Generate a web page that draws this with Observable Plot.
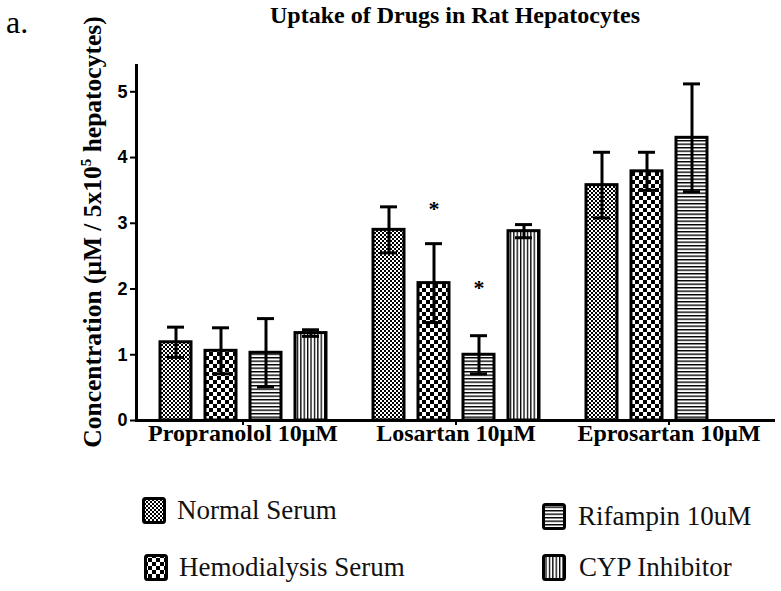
<!DOCTYPE html>
<html>
<head>
<meta charset="utf-8">
<script src="https://cdn.jsdelivr.net/npm/d3@7"></script>
<script src="https://cdn.jsdelivr.net/npm/@observablehq/plot@0.6"></script>
<style>
  html, body { margin: 0; padding: 0; background: white; }
  #root { position: relative; width: 781px; height: 591px; overflow: hidden; background: white; font-family: "Liberation Serif", "Times New Roman", serif; color: #000; }
  .abs { position: absolute; white-space: nowrap; }
  #panel { left: 6px; top: 6px; font-size: 32px; line-height: 32px; }
  #title { left: 455px; top: 3px; transform: translateX(-50%); font-size: 24px; line-height: 24px; font-weight: bold; }
  #ylabel { left: 92px; top: 232px; transform: translate(-50%, -50%) rotate(-90deg); font-size: 25.5px; line-height: 25px; font-weight: bold; }
  #ylabel sup { font-size: 15px; line-height: 0; vertical-align: 10px; }
  #chart { left: 0; top: 0; }
  .item { position: absolute; display: flex; align-items: flex-start; font-size: 27px; line-height: 27px; white-space: nowrap; color: #111; }
  .item svg { display: block; }
</style>
</head>
<body>
<div id="root">
  <div id="chart" class="abs"></div>
  <div id="panel" class="abs">a.</div>
  <div id="title" class="abs">Uptake of Drugs in Rat Hepatocytes</div>
  <div id="ylabel" class="abs">Concentration (μM / 5x10<sup>5</sup> hepatocytes)</div>
  <div id="legend"></div>
</div>
<script>
// ---- data ----
const groups = ["Propranolol 10μM", "Losartan 10μM", "Eprosartan 10μM"];
const series = ["Normal Serum", "Hemodialysis Serum", "Rifampin 10uM", "CYP Inhibitor"];
const propranololMean = [1.19, 1.06, 1.03, 1.33];
const propranololSD   = [0.23, 0.35, 0.52, 0.05];
const losartanMean    = [2.90, 2.09, 1.00, 2.88];
const losartanSD      = [0.35, 0.60, 0.29, 0.10];
const eprosartanMean  = [3.58, 3.79, 4.30, null];
const eprosartanSD    = [0.50, 0.29, 0.82, null];
const yTicks = [0, 1, 2, 3, 4, 5];
const sigGroup  = ["Losartan 10μM", "Losartan 10μM"];
const sigSeries = ["Hemodialysis Serum", "Rifampin 10uM"];
const sigY      = [3.22, 2.01];
const sigLabel  = ["*", "*"];

// ---- tables ----
const means = [propranololMean, losartanMean, eprosartanMean];
const sds = [propranololSD, losartanSD, eprosartanSD];
const rows = [];
groups.forEach((g, gi) => series.forEach((s, si) => {
  const m = means[gi][si];
  if (m == null) return;
  const e = sds[gi][si];
  rows.push({group: g, series: s, mean: m, lo: m - e, hi: m + e});
}));
const stars = sigY.map((y, i) => ({group: sigGroup[i], series: sigSeries[i], y, label: sigLabel[i]}));
const patternIds = ["pat-normal", "pat-hemo", "pat-rif", "pat-cyp"];

const serif = "'Liberation Serif', 'Times New Roman', serif";
const sans = "'Liberation Sans', Arial, sans-serif";

const plot = Plot.plot({
  width: 781,
  height: 470,
  marginTop: 65,
  marginBottom: 50,
  marginLeft: 135,
  marginRight: 6,
  style: {fontFamily: serif, background: "transparent", color: "black"},
  fx: {domain: groups, padding: 0, label: null},
  x: {domain: series, paddingInner: 0.316, paddingOuter: 0.51, axis: null},
  y: {domain: [0, 5.4], label: null},
  color: {domain: series, range: patternIds.map(id => `url(#${id})`)},
  marks: [
    Plot.barY(rows, {fx: "group", x: "series", y: "mean", fill: "series", stroke: "black", strokeWidth: 3}),
    Plot.ruleX(rows, {fx: "group", x: "series", y1: "lo", y2: "hi", stroke: "black", strokeWidth: 3}),
    Plot.tickY(rows, {fx: "group", x: "series", y: "hi", stroke: "black", strokeWidth: 3, insetLeft: 7, insetRight: 7}),
    Plot.tickY(rows, {fx: "group", x: "series", y: "lo", stroke: "black", strokeWidth: 3, insetLeft: 7, insetRight: 7}),
    Plot.ruleY([0], {stroke: "black", strokeWidth: 3}),
    Plot.frame({anchor: "left", facetAnchor: "left", stroke: "black", strokeWidth: 3}),
    Plot.axisY({ticks: yTicks, tickFormat: d3.format("d"), tickSize: 6, tickPadding: 3, fontSize: 18, fontWeight: "bold", fontFamily: sans, strokeWidth: 2, label: null}),
    Plot.axisFx({anchor: "bottom", tickSize: 5, tickPadding: -2, fontSize: 24, fontWeight: "bold", fontFamily: serif, strokeWidth: 2, label: null}),
    Plot.text(stars, {fx: "group", x: "series", y: "y", text: "label", fontSize: 22, fontWeight: "bold", fontFamily: serif})
  ]
});

// ---- fill patterns ----
const defs = d3.select(plot).insert("defs", ":first-child");
function checker(id, c) {
  const p = defs.append("pattern").attr("id", id).attr("patternUnits", "userSpaceOnUse")
    .attr("width", 2 * c).attr("height", 2 * c);
  p.append("rect").attr("width", 2 * c).attr("height", 2 * c).attr("fill", "white");
  p.append("rect").attr("width", c).attr("height", c).attr("fill", "black");
  p.append("rect").attr("x", c).attr("y", c).attr("width", c).attr("height", c).attr("fill", "black");
}
function lines(id, horizontal, step, w) {
  const p = defs.append("pattern").attr("id", id).attr("patternUnits", "userSpaceOnUse")
    .attr("width", horizontal ? 8 : step).attr("height", horizontal ? step : 8);
  p.append("rect").attr("width", horizontal ? 8 : step).attr("height", horizontal ? step : 8).attr("fill", "white");
  if (horizontal) p.append("rect").attr("width", 8).attr("height", w).attr("fill", "black");
  else p.append("rect").attr("width", w).attr("height", 8).attr("fill", "black");
}
checker(patternIds[0], 2);
checker(patternIds[1], 4);
lines(patternIds[2], true, 3.5, 1.4);
lines(patternIds[3], false, 3.4, 1.3);

document.getElementById("chart").appendChild(plot);

// ---- legend ----
const legendPos = [
  {left: 142, top: 497, gap: 11},
  {left: 144, top: 554, gap: 11},
  {left: 542, top: 503, gap: 12},
  {left: 542, top: 554, gap: 13}
];
const legend = d3.select("#legend");
series.forEach((s, i) => {
  const pos = legendPos[i];
  const item = legend.append("div").attr("class", "item")
    .style("left", pos.left + "px").style("top", pos.top + "px");
  const sw = item.append("svg").attr("width", 24).attr("height", 27);
  sw.append("rect").attr("x", 1.5).attr("y", 1.5).attr("width", 21).attr("height", 24).attr("rx", 2)
    .attr("fill", `url(#${patternIds[i]})`).attr("stroke", "black").attr("stroke-width", 3);
  item.append("span").style("margin-left", pos.gap + "px").text(s);
});
</script>
</body>
</html>
